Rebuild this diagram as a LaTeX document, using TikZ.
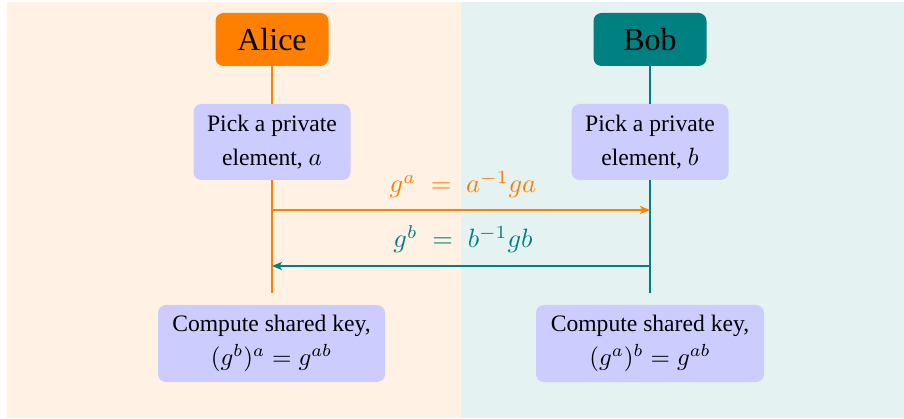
\documentclass[tikz,border=0pt]{standalone}
\usepackage[no-math]{fontspec}
\usepackage{graphicx}
\setmainfont{Liberation Serif}
\usetikzlibrary{arrows.meta}
\newcommand{\mth}[2][2.5]{\scalebox{#1}{\fontsize{10}{12}\selectfont$#2$}}
\begin{document}
\begin{tikzpicture}[x=1pt,y=-1pt,
  actor/.style={rounded corners=8pt, minimum width=113pt, minimum height=53pt, inner sep=0pt,
    font=\fontsize{32}{38}\selectfont, text=black},
  stepbox/.style={fill=blue!20, rounded corners=8pt, align=center, inner sep=0pt,
    font=\fontsize{23.6}{34}\selectfont},
  life/.style={line width=2pt},
  msg/.style={line width=2pt, -{Stealth[length=10pt,width=8pt,inset=2.5pt]}},
  lbl/.style={anchor=base}
]
\useasboundingbox (0,0) rectangle (904,419);
\fill[orange!10] (7,2) rectangle (461,418);
\fill[teal!10] (461,2) rectangle (904,418);

\node[actor, fill=orange] (alice) at (272,39.5) {Alice};
\node[actor, fill=teal] (bob) at (650,39.5) {Bob};

\node[stepbox, minimum width=157pt, minimum height=76pt] (pickA) at (272,142) {Pick a private\\element, \mth{a}};
\node[stepbox, minimum width=157pt, minimum height=76pt] (pickB) at (650,142) {Pick a private\\element, \mth{b}};

\node[stepbox, minimum width=227pt, minimum height=77pt] (compA) at (271.5,343.5) {Compute shared key,\\\mth{(g^b)^a = g^{ab}}};
\node[stepbox, minimum width=228pt, minimum height=77pt] (compB) at (650,343.5) {Compute shared key,\\\mth{(g^a)^b = g^{ab}}};

\coordinate (endA) at (272,293);
\coordinate (endB) at (650,293);
\coordinate (m1A) at (272,210);
\coordinate (m1B) at (650,210);
\coordinate (m2A) at (272,266);
\coordinate (m2B) at (650,266);

\draw[life, orange] (alice.south) -- (pickA.north);
\draw[life, orange] (pickA.south) -- (endA);
\draw[life, teal] (bob.south) -- (pickB.north);
\draw[life, teal] (pickB.south) -- (endB);

\draw[msg, orange] (m1A) -- (m1B) node[lbl, midway, yshift=17pt, xshift=2pt, text=orange] {\mth[2.65]{g^{a} \;=\; a^{-1}ga}};
\draw[msg, teal] (m2B) -- (m2A) node[lbl, midway, yshift=18pt, xshift=2pt, text=teal] {\mth[2.65]{g^{b} \;=\; b^{-1}gb}};
\end{tikzpicture}
\end{document}
